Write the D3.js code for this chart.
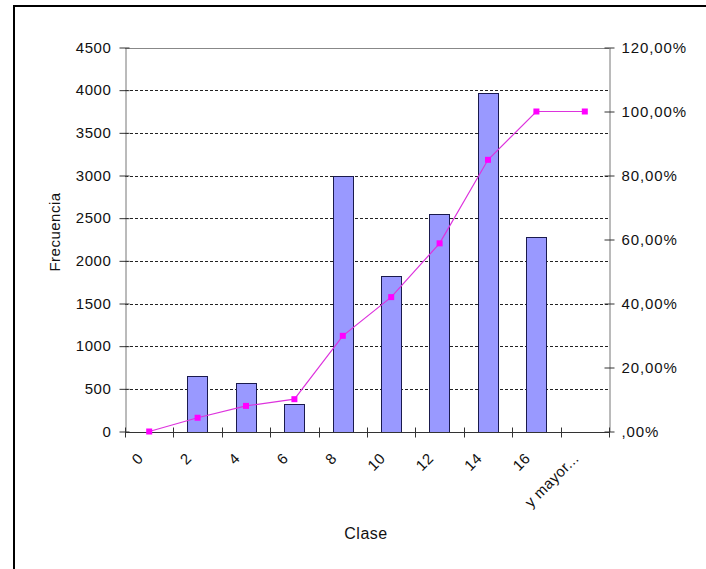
<!DOCTYPE html>
<html>
<head>
<meta charset="utf-8">
<script src="https://cdn.jsdelivr.net/npm/d3@7"></script>
<style>
  html, body { margin: 0; padding: 0; background: #fff; }
  svg { display: block; }
  text { font-family: "Liberation Sans", Arial, sans-serif; fill: #111; }
</style>
</head>
<body>
<svg id="chart" width="706" height="569"></svg>
<script>
// ---- data ----
const categories = ["0", "2", "4", "6", "8", "10", "12", "14", "16", "y mayor..."];
const frequency = [0, 650, 565, 319, 2998, 1826, 2545, 3963, 2283, 0];
const cumulativePct = [0, 4.3, 8.0, 10.1, 29.9, 42.0, 58.8, 84.9, 100, 100];
const leftTicks = [0, 500, 1000, 1500, 2000, 2500, 3000, 3500, 4000, 4500];
const rightTicks = [0, 20, 40, 60, 80, 100, 120];
const rightTickLabels = [",00%", "20,00%", "40,00%", "60,00%", "80,00%", "100,00%", "120,00%"];
const yTitle = "Frecuencia";
const xTitle = "Clase";

// ---- layout ----
const svg = d3.select("#chart");
const plot = { left: 125, right: 609, top: 47.5, bottom: 431.5 };

// outer frame (cut off at right and bottom)
svg.append("rect")
  .attr("x", 14).attr("y", 6).attr("width", 800).attr("height", 700)
  .attr("fill", "#fff").attr("stroke", "#000").attr("stroke-width", 2);

const x = d3.scaleBand().domain(categories)
  .range([plot.left, plot.right]).paddingInner(0.58).paddingOuter(0.29);
const xc = d => x(d) + x.bandwidth() / 2;
const step = x.step();
const yL = d3.scaleLinear().domain([0, 4500]).range([plot.bottom, plot.top]);
const yR = d3.scaleLinear().domain([0, 120]).range([plot.bottom, plot.top]);

// gridlines
svg.append("g").selectAll("line")
  .data(leftTicks.filter(t => t > 0 && t < 4500))
  .join("line")
  .attr("x1", plot.left).attr("x2", plot.right)
  .attr("y1", d => Math.round(yL(d)) + 0.5).attr("y2", d => Math.round(yL(d)) + 0.5)
  .attr("stroke", "#222").attr("stroke-width", 1).attr("stroke-dasharray", "3,2");

// top border of plot area
svg.append("line")
  .attr("x1", plot.left).attr("x2", plot.right)
  .attr("y1", Math.round(plot.top) + 0.5).attr("y2", Math.round(plot.top) + 0.5)
  .attr("stroke", "#888").attr("stroke-width", 1);

// bars
svg.append("g").selectAll("rect")
  .data(categories.map((c, i) => ({ c, v: frequency[i] })).filter(d => d.v > 0))
  .join("rect")
  .attr("x", d => Math.round(x(d.c)) + 0.5)
  .attr("y", d => Math.round(yL(d.v)) + 0.5)
  .attr("width", Math.round(x.bandwidth()))
  .attr("height", d => Math.round(yL(0)) - Math.round(yL(d.v)))
  .attr("fill", "#9999ff").attr("stroke", "#1a1a4d").attr("stroke-width", 1);

// left axis
const leftAxis = d3.axisLeft(yL).tickValues(leftTicks).tickSize(0).tickPadding(14)
  .tickFormat(d3.format("d"));
const gL = svg.append("g").attr("transform", `translate(${plot.left + 0.5},0)`).call(leftAxis);
gL.select(".domain").attr("stroke", "#777");
gL.selectAll(".tick text").attr("font-size", 15).attr("fill", "#222")
  .attr("font-family", "Liberation Sans, Arial, sans-serif").attr("letter-spacing", "0.6px");
gL.selectAll(".tick").append("line")
  .attr("x1", -6).attr("x2", 4).attr("stroke", "#333");

// right axis
const rightAxis = d3.axisRight(yR).tickValues(rightTicks).tickSize(0).tickPadding(12)
  .tickFormat((d, i) => rightTickLabels[i]);
const gR = svg.append("g").attr("transform", `translate(${plot.right + 0.5},0)`).call(rightAxis);
gR.select(".domain").attr("stroke", "#777");
gR.selectAll(".tick text").attr("font-size", 15).attr("fill", "#222")
  .attr("font-family", "Liberation Sans, Arial, sans-serif").attr("letter-spacing", "0.9px");
gR.selectAll(".tick").append("line")
  .attr("x1", -5).attr("x2", 5).attr("stroke", "#333");

// bottom axis
const gB = svg.append("g").attr("transform", `translate(0,${Math.round(plot.bottom) + 0.5})`);
gB.append("line").attr("x1", plot.left).attr("x2", plot.right + 1)
  .attr("stroke", "#333");
gB.selectAll("line.tk")
  .data(d3.range(categories.length + 1))
  .join("line").attr("class", "tk")
  .attr("x1", i => Math.round(plot.left + i * step) + 0.5)
  .attr("x2", i => Math.round(plot.left + i * step) + 0.5)
  .attr("y1", -5).attr("y2", 5).attr("stroke", "#333");
gB.selectAll("text")
  .data(categories)
  .join("text")
  .attr("transform", d => `translate(${xc(d) - 9},${455 - Math.round(plot.bottom)}) rotate(-45)`)
  .attr("text-anchor", "end").attr("dominant-baseline", "central")
  .attr("font-size", 15).attr("fill", "#111").attr("letter-spacing", "0.4px")
  .text(d => d);

// cumulative line
const line = d3.line().x((d, i) => xc(categories[i])).y(d => yR(d));
svg.append("path").datum(cumulativePct)
  .attr("d", line).attr("fill", "none").attr("stroke", "#dd33dd").attr("stroke-width", 1.2);
svg.append("g").selectAll("rect")
  .data(cumulativePct)
  .join("rect")
  .attr("x", (d, i) => xc(categories[i]) - 3)
  .attr("y", d => yR(d) - 3)
  .attr("width", 6).attr("height", 6)
  .attr("fill", "#ff00ff");

// titles
svg.append("text")
  .attr("transform", "translate(60,232) rotate(-90)")
  .attr("text-anchor", "middle").attr("font-size", 15).attr("fill", "#222")
  .attr("letter-spacing", "0.5px")
  .text(yTitle);
svg.append("text")
  .attr("x", 366).attr("y", 539)
  .attr("text-anchor", "middle").attr("font-size", 16).attr("fill", "#222")
  .attr("letter-spacing", "0.5px")
  .text(xTitle);
</script>
</body>
</html>
